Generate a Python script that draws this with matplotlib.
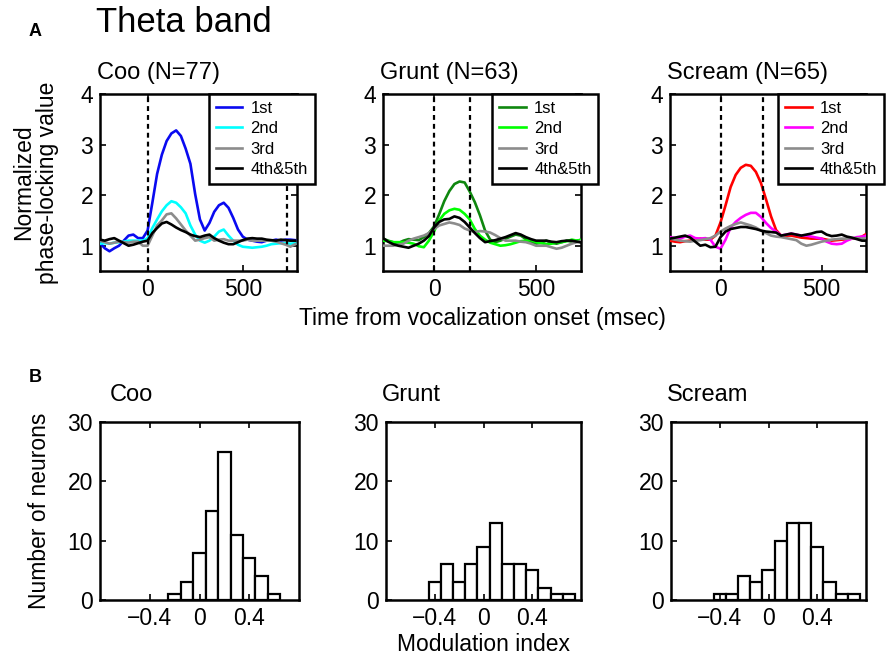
import numpy as np
import matplotlib
matplotlib.use("Agg")
import matplotlib.pyplot as plt

plt.rcParams['font.family'] = ['Liberation Sans', 'DejaVu Sans']

# ---------------- data ----------------
t_coo = list(range(-250, 800, 25))
t_gs = list(range(-250, 750, 25))

coo_1st = [1.05, 0.95, 0.89, 0.95, 1.0, 1.1, 1.2, 1.22, 1.15, 1.15, 1.3, 1.85, 2.42, 2.8, 3.07, 3.22, 3.28,
           3.17, 2.92, 2.62, 2.02, 1.52, 1.3, 1.45, 1.67, 1.8, 1.85, 1.75, 1.55, 1.32, 1.18, 1.12, 1.1, 1.08,
           1.07, 1.1, 1.1, 1.12, 1.1, 1.12, 1.12, 1.11]
coo_2nd = [1.04, 1.05, 1.04, 1.06, 1.07, 1.08, 1.1, 1.1, 1.1, 1.1, 1.15, 1.35, 1.52, 1.68, 1.8, 1.88, 1.85,
           1.76, 1.64, 1.4, 1.22, 1.1, 1.06, 1.1, 1.18, 1.28, 1.32, 1.2, 1.1, 1.02, 0.98, 0.97, 0.96, 0.97,
           0.98, 1.0, 1.03, 1.04, 1.05, 1.05, 1.04, 1.05]
coo_3rd = [1.1, 1.07, 1.04, 1.06, 1.08, 1.07, 1.06, 1.08, 1.08, 1.0, 1.0, 1.2, 1.4, 1.5, 1.62, 1.64, 1.54,
           1.42, 1.3, 1.2, 1.1, 1.12, 1.15, 1.17, 1.1, 1.12, 1.13, 1.1, 1.1, 1.1, 1.1, 1.12, 1.1, 1.1,
           1.1, 1.1, 1.1, 1.08, 1.05, 1.02, 0.98, 1.03]
coo_4th5th = [1.12, 1.1, 1.13, 1.15, 1.1, 1.05, 1.0, 1.02, 1.05, 1.08, 1.1, 1.25, 1.35, 1.44, 1.47, 1.42, 1.36,
              1.31, 1.27, 1.22, 1.19, 1.17, 1.2, 1.22, 1.15, 1.1, 1.06, 1.03, 1.03, 1.07, 1.11, 1.14, 1.15,
              1.14, 1.14, 1.12, 1.11, 1.1, 1.12, 1.11, 1.1, 1.1]

grunt_1st = [1.14, 1.1, 1.07, 1.05, 1.1, 1.13, 1.12, 1.11, 1.17, 1.25, 1.38, 1.62, 1.88, 2.08, 2.22, 2.27,
             2.25, 2.07, 1.86, 1.6, 1.3, 1.12, 1.07, 1.1, 1.14, 1.18, 1.22, 1.2, 1.13, 1.08, 1.04, 1.06,
             1.1, 1.06, 1.04, 1.07, 1.1, 1.08, 1.1, 1.12]
grunt_2nd = [1.1, 1.09, 1.07, 1.07, 1.07, 1.06, 1.04, 0.99, 0.97, 1.1, 1.28, 1.5, 1.63, 1.7, 1.73, 1.71,
             1.63, 1.52, 1.33, 1.2, 1.12, 1.06, 1.03, 1.0, 1.01, 1.03, 1.06, 1.09, 1.1, 1.11, 1.07, 1.05,
             1.03, 1.04, 1.06, 1.07, 1.09, 1.12, 1.1, 1.12]
grunt_3rd = [1.0, 1.0, 1.0, 1.02, 1.04, 1.1, 1.14, 1.17, 1.2, 1.25, 1.33, 1.4, 1.43, 1.46, 1.44, 1.41,
             1.34, 1.3, 1.27, 1.29, 1.28, 1.26, 1.21, 1.15, 1.1, 1.1, 1.1, 1.08, 1.07, 1.04, 1.0, 1.0,
             1.0, 0.97, 0.94, 0.96, 1.0, 1.04, 1.07, 1.1]
grunt_4th5th = [1.15, 1.08, 1.03, 1.0, 0.98, 0.96, 1.0, 1.04, 1.1, 1.19, 1.36, 1.47, 1.52, 1.53, 1.58, 1.55,
                1.47, 1.36, 1.25, 1.15, 1.07, 1.09, 1.11, 1.14, 1.17, 1.21, 1.25, 1.22, 1.17, 1.13, 1.1,
                1.1, 1.1, 1.08, 1.07, 1.09, 1.1, 1.1, 1.08, 1.06]

scream_1st = [1.1, 1.08, 1.07, 1.09, 1.1, 1.12, 1.14, 1.12, 1.12, 1.2, 1.46, 1.8, 2.16, 2.4, 2.54, 2.6,
              2.58, 2.46, 2.24, 1.92, 1.58, 1.31, 1.2, 1.2, 1.2, 1.18, 1.16, 1.15, 1.14, 1.14, 1.14, 1.12,
              1.1, 1.11, 1.12, 1.13, 1.14, 1.15, 1.18, 1.24]
scream_2nd = [1.17, 1.15, 1.14, 1.18, 1.2, 1.15, 1.14, 1.15, 1.12, 0.98, 0.94, 1.12, 1.36, 1.47, 1.55, 1.61,
              1.65, 1.65, 1.57, 1.45, 1.35, 1.28, 1.2, 1.22, 1.24, 1.22, 1.2, 1.2, 1.18, 1.16, 1.14, 1.08,
              1.04, 1.03, 1.04, 1.1, 1.14, 1.17, 1.18, 1.2]
scream_3rd = [1.14, 1.12, 1.1, 1.09, 1.08, 1.1, 1.11, 1.13, 1.15, 1.2, 1.28, 1.34, 1.39, 1.43, 1.46, 1.43,
              1.4, 1.36, 1.3, 1.25, 1.2, 1.18, 1.17, 1.15, 1.13, 1.11, 1.04, 1.0, 1.02, 1.05, 1.08, 1.1,
              1.12, 1.13, 1.14, 1.14, 1.15, 1.15, 1.14, 1.15]
scream_4th5th = [1.14, 1.16, 1.18, 1.2, 1.16, 1.08, 1.0, 1.02, 0.97, 0.98, 1.17, 1.28, 1.33, 1.35, 1.37, 1.37,
                 1.35, 1.33, 1.3, 1.28, 1.27, 1.26, 1.2, 1.22, 1.24, 1.22, 1.2, 1.22, 1.24, 1.27, 1.28,
                 1.22, 1.19, 1.2, 1.22, 1.18, 1.16, 1.13, 1.1, 1.1]

series_labels = ["1st", "2nd", "3rd", "4th&5th"]
panel_titles = ["Coo (N=77)", "Grunt (N=63)", "Scream (N=65)"]
offset_lines = [730, 176, 210]   # second dashed marker per call type (msec)

hist_titles = ["Coo", "Grunt", "Scream"]
coo_centers = [-0.2, -0.1, 0.0, 0.1, 0.2, 0.3, 0.4, 0.5, 0.6]
coo_counts = [1, 3, 8, 15, 25, 11, 7, 4, 1]
grunt_centers = [-0.4, -0.3, -0.2, -0.1, 0.0, 0.1, 0.2, 0.3, 0.4, 0.5, 0.6, 0.7]
grunt_counts = [3, 6, 3, 6, 9, 13, 6, 6, 5, 2, 1, 1]
scream_centers = [-0.4, -0.3, -0.2, -0.1, 0.0, 0.1, 0.2, 0.3, 0.4, 0.5, 0.6, 0.7]
scream_counts = [1, 1, 4, 3, 5, 10, 13, 13, 9, 3, 1, 1]

# ---------------- figure ----------------
W, H = 893, 659
fig = plt.figure(figsize=(W / 100, H / 100), dpi=100)


def box(x0, y0, x1, y1):
    return [x0 / W, 1 - y1 / H, (x1 - x0) / W, (y1 - y0) / H]


top_boxes = [box(100, 94, 297, 271), box(383, 94, 581, 271), box(670, 94, 866, 271)]
bot_boxes = [box(100, 422, 299, 600), box(386, 422, 581, 600), box(671, 422, 866, 600)]

top_data = [
    (t_coo, [coo_1st, coo_2nd, coo_3rd, coo_4th5th], ["#0a0af0", "#00ffff", "#8c8c8c", "black"], (-250, 785)),
    (t_gs, [grunt_1st, grunt_2nd, grunt_3rd, grunt_4th5th], ["#0f870f", "#00ff00", "#8c8c8c", "black"], (-250, 720)),
    (t_gs, [scream_1st, scream_2nd, scream_3rd, scream_4th5th], ["#ff0000", "#ff00ff", "#8c8c8c", "black"], (-250, 720)),
]

FS = 16.5
TFS = 17

for i in range(3):
    ax = fig.add_axes(top_boxes[i])
    t, ys, cols, xl = top_data[i]
    handles = []
    for y, c, lab in zip(ys, cols, series_labels):
        h, = ax.plot(t, y, color=c, lw=1.9, label=lab, zorder=3 if c != "black" else 4)
        handles.append(h)
    ax.axvline(0, color="black", lw=1.6, ls=(0, (2.2, 1.8)), zorder=5)
    ax.axvline(offset_lines[i], color="black", lw=1.6, ls=(0, (2.2, 1.8)), zorder=5)
    ax.set_xlim(*xl)
    ax.set_ylim(0.5, 4)
    ax.set_xticks([0, 500])
    ax.set_yticks([1, 2, 3, 4])
    ax.tick_params(direction="in", top=True, right=True, labelsize=FS, length=4, width=1.2, pad=5)
    for s in ax.spines.values():
        s.set_linewidth(1.8)
    ax.text(-0.015, 1.055, panel_titles[i], transform=ax.transAxes, fontsize=TFS, ha="left", va="bottom")
    leg = ax.legend(handles=handles, loc="upper left",
                    bbox_to_anchor=(0.553, 1.0), fontsize=12, frameon=True, fancybox=False,
                    edgecolor="black", framealpha=1, handlelength=1.6, handletextpad=0.5,
                    labelspacing=0.33, borderpad=0.4, borderaxespad=0.0)
    leg.get_frame().set_linewidth(1.8)
    leg.set_zorder(10)
    if i == 0:
        ax.set_ylabel("Normalized\nphase-locking value", fontsize=FS, labelpad=15, linespacing=1.05)
    if i == 1:
        ax.set_xlabel("Time from vocalization onset (msec)", fontsize=FS, labelpad=4)

bot_data = [(coo_centers, coo_counts), (grunt_centers, grunt_counts), (scream_centers, scream_counts)]
title_dx = [0.05, -0.02, -0.02]
for i in range(3):
    ax = fig.add_axes(bot_boxes[i])
    c, n = bot_data[i]
    ax.bar(c, n, width=0.1, facecolor="white", edgecolor="black", lw=1.6, align="center")
    ax.set_xlim(-0.8, 0.8)
    ax.set_ylim(0, 30)
    ax.set_xticks([-0.4, 0, 0.4])
    ax.set_xticklabels(["\u22120.4", "0", "0.4"])
    ax.set_yticks([0, 10, 20, 30])
    ax.tick_params(direction="in", top=True, right=False, labelsize=FS, length=4, width=1.2, pad=5)
    for s in ax.spines.values():
        s.set_linewidth(1.8)
    ax.text(title_dx[i], 1.09, hist_titles[i], transform=ax.transAxes, fontsize=TFS, ha="left", va="bottom")
    if i == 0:
        ax.set_ylabel("Number of neurons", fontsize=FS, labelpad=12)
    if i == 1:
        ax.set_xlabel("Modulation index", fontsize=FS, labelpad=2)

fig.text(96 / W, 1 - 23 / H, "Theta band", fontsize=25, ha="left", va="center")
fig.text(29 / W, 1 - 31 / H, "A", fontsize=13, fontweight="bold", ha="left", va="center")
fig.text(29 / W, 1 - 378 / H, "B", fontsize=13, fontweight="bold", ha="left", va="center")

fig.savefig("out.png", dpi=100)
